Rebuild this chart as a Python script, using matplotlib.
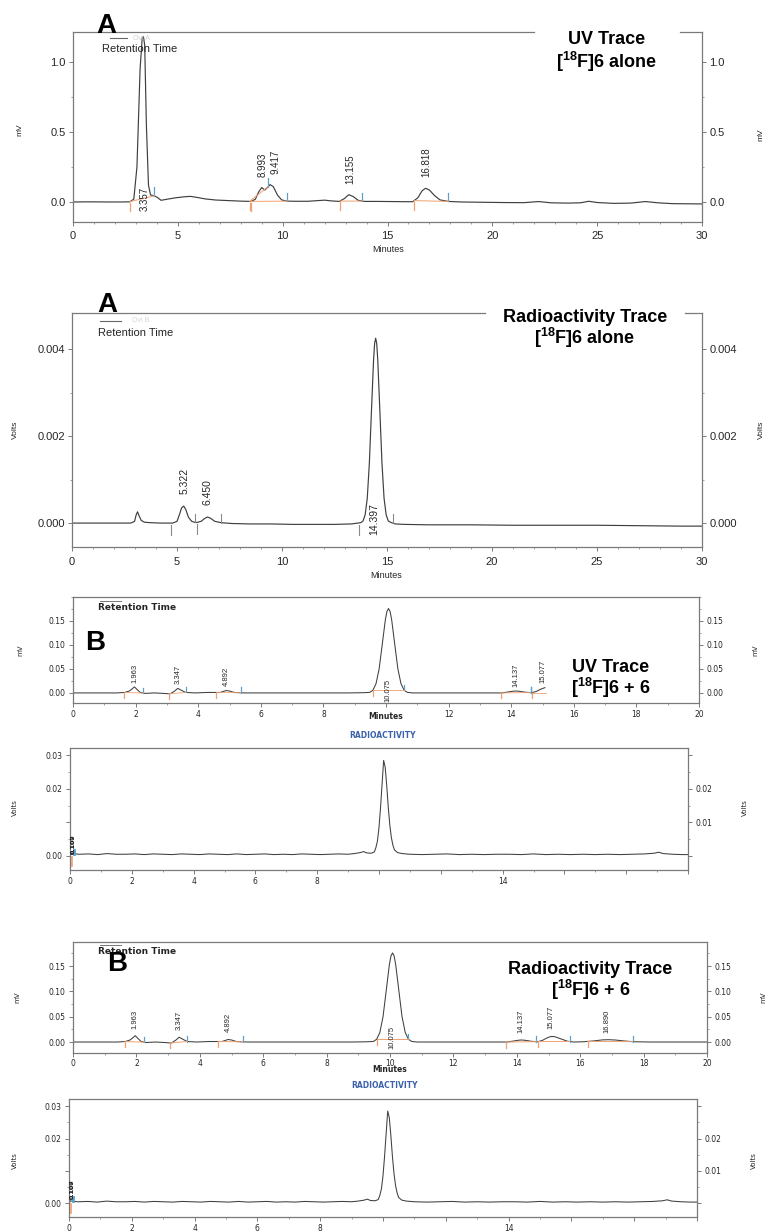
import matplotlib
matplotlib.use('Agg')
import matplotlib.pyplot as plt
from matplotlib import font_manager
from matplotlib.ticker import MultipleLocator
import numpy as np

W, H = 765, 1232
_names = {f.name for f in font_manager.fontManager.ttflist}
ARIAL = 'Liberation Sans'
NARROW = 'Liberation Sans Narrow' if 'Liberation Sans Narrow' in _names else 'Liberation Sans'
VERD = 'DejaVu Sans'

plt.rcParams['font.family'] = [ARIAL, 'DejaVu Sans']
plt.rcParams['mathtext.fontset'] = 'custom'
plt.rcParams['mathtext.rm'] = ARIAL + ':bold'
plt.rcParams['mathtext.bf'] = ARIAL + ':bold'
plt.rcParams['mathtext.it'] = ARIAL + ':bold'

# ---------------- data ----------------
# A, UV trace, [18F]6 alone  (minutes, mV)
uvA_t = [0.0, 0.8, 1.6, 2.3, 2.7, 2.9, 3.05, 3.2, 3.3, 3.36, 3.42, 3.5, 3.6, 3.7, 3.85, 4.0,
         4.2, 4.5, 4.9, 5.3, 5.6, 5.9, 6.3, 6.8, 7.4, 8.0, 8.5, 8.7, 8.85, 9.0, 9.15, 9.25,
         9.4, 9.55, 9.75, 9.95, 10.2, 10.6, 11.2, 11.7, 12.0, 12.3, 12.7, 12.95, 13.15, 13.35,
         13.6, 13.9, 14.5, 15.2, 15.8, 16.2, 16.45, 16.65, 16.82, 17.0, 17.25, 17.5, 17.9, 18.5,
         19.5, 20.5, 21.5, 22.2, 22.8, 23.6, 24.2, 24.6, 25.0, 25.8, 26.6, 27.3, 27.9, 28.6,
         29.3, 30.0]
uvA_mv = [0.0, 0.001, 0.0, 0.0, 0.001, 0.02, 0.25, 0.95, 1.17, 1.18, 1.12, 0.55, 0.12, 0.05, 0.045,
          0.035, 0.012, 0.02, 0.03, 0.037, 0.04, 0.033, 0.022, 0.014, 0.01, 0.006, 0.004, 0.02,
          0.07, 0.103, 0.085, 0.1, 0.124, 0.11, 0.05, 0.015, 0.006, 0.005, 0.005, 0.01, 0.013,
          0.008, 0.004, 0.025, 0.052, 0.04, 0.012, 0.004, 0.004, 0.003, 0.002, 0.002, 0.03, 0.08,
          0.098, 0.085, 0.045, 0.015, 0.004, 0.0, -0.002, -0.004, -0.005, 0.003, -0.006, -0.008,
          -0.006, 0.005, -0.004, -0.01, -0.008, 0.003, -0.006, -0.012, -0.013, -0.014]
uvA_rt = [3.357, 8.993, 9.417, 13.155, 16.818]
uvA_labels = ['3.357', '8.993', '9.417', '13.155', '16.818']
uvA_start = [2.72, 8.42, 8.48, 12.73, 16.27]
uvA_end = [3.87, 9.30, 10.20, 13.80, 17.90]

# A, radioactivity trace, [18F]6 alone  (minutes, Volts)
radA_t = [0.0, 1.0, 2.0, 2.8, 2.98, 3.05, 3.12, 3.2, 3.3, 3.45, 3.7, 4.2, 4.8, 5.0, 5.12, 5.22,
          5.32, 5.42, 5.55, 5.7, 5.9, 6.15, 6.3, 6.45, 6.6, 6.8, 7.1, 7.6, 8.5, 9.5, 10.5, 11.5,
          12.5, 13.3, 13.76, 13.86, 13.96, 14.06, 14.16, 14.26, 14.36, 14.41, 14.46, 14.51, 14.56,
          14.66, 14.76, 14.86, 14.96, 15.06, 15.2, 15.4, 15.8, 17.0, 19.0, 21.0, 23.0, 25.0, 27.0,
          29.0, 30.0]
radA_v = [0.0, 0.0, 0.0, 0.0, 0.00004, 0.00018, 0.00026, 0.00016, 0.00006, 0.00002, 0.00001, 0.0,
          0.0, 0.00004, 0.00020, 0.00035, 0.00039, 0.00031, 0.00013, 0.00004, 0.00001, 0.00004,
          0.00010, 0.00014, 0.00011, 0.00004, 0.00001, -0.00001, -0.00002, -0.00002, -0.00003,
          -0.00003, -0.00003, -0.00002, 0.00001, 0.00005, 0.00019, 0.00057, 0.00138, 0.00258,
          0.00375, 0.00413, 0.00425, 0.00413, 0.00375, 0.00258, 0.00138, 0.00057, 0.00019, 0.00005,
          0.00001, -0.00002, -0.00003, -0.00004, -0.00004, -0.00005, -0.00005, -0.00005, -0.00006,
          -0.00007, -0.00007]
radA_rt = [5.322, 6.450, 14.397]
radA_labels = ['5.322', '6.450', '14.397']
radA_mark_up = [5.86, 7.10, 15.27]
radA_mark_down = [4.72, 5.93, 13.65]

# B, UV trace, [18F]6 + 6  (minutes, mV)
uvB_t = [0.0, 0.8, 1.4, 1.65, 1.8, 1.9, 1.963, 2.05, 2.15, 2.3, 2.6, 2.9, 3.1, 3.25, 3.347, 3.45,
         3.6, 3.9, 4.3, 4.7, 4.8, 4.892, 5.0, 5.15, 5.5, 6.2, 7.0, 8.0, 8.8, 9.3, 9.48, 9.58, 9.68,
         9.78, 9.88, 9.98, 10.03, 10.08, 10.13, 10.18, 10.28, 10.38, 10.48, 10.58, 10.68, 10.85,
         11.5, 12.5, 13.3, 13.7, 13.9, 14.05, 14.137, 14.25, 14.45, 14.65, 14.8, 14.95, 15.077,
         15.2, 15.4, 15.6, 15.8, 16.1, 16.4, 16.7, 16.89, 17.1, 17.4, 17.7, 18.2, 19.0, 20.0]
uvB_mv = [0.0, 0.0, 0.0, 0.001, 0.004, 0.009, 0.0125, 0.007, 0.001, -0.001, 0.0, -0.001, -0.002,
          0.004, 0.0095, 0.006, 0.001, 0.0, 0.001, 0.001, 0.003, 0.005, 0.004, 0.001, 0.0, 0.0, 0.0,
          0.0, 0.0, 0.0005, 0.0012, 0.0055, 0.019, 0.05, 0.101, 0.153, 0.170, 0.176, 0.170, 0.153,
          0.101, 0.05, 0.019, 0.0055, 0.0012, 0.0, 0.0, 0.0, 0.0, 0.0, 0.002, 0.0035, 0.004, 0.0035,
          0.0015, 0.0005, 0.003, 0.008, 0.011, 0.0105, 0.006, 0.0015, 0.0, 0.0005, 0.002, 0.0042,
          0.0046, 0.004, 0.002, 0.0005, 0.0, 0.0, 0.0]
uvB_rt = [1.963, 3.347, 4.892, 10.075, 14.137, 15.077, 16.890]
uvB_labels = ['1.963', '3.347', '4.892', '10.075', '14.137', '15.077', '16.890']
uvB_start = [1.64, 3.06, 4.58, 9.58, 13.66, 14.68, 16.24]
uvB_end = [2.25, 3.60, 5.37, 10.58, 14.62, 15.67, 17.65]

# B, radioactivity trace, [18F]6 + 6  (minutes, Volts)
radB_t = [0.0, 0.05, 0.15, 0.3, 0.6, 0.9, 1.2, 1.5, 1.8, 2.1, 2.4, 2.7, 3.0, 3.3, 3.6, 3.9, 4.2,
          4.5, 4.8, 5.1, 5.4, 5.7, 6.0, 6.3, 6.6, 6.9, 7.2, 7.5, 7.8, 8.1, 8.4, 8.7, 9.0, 9.2, 9.4,
          9.5, 9.6, 9.75, 9.85, 9.9, 9.95, 10.0, 10.05, 10.1, 10.15, 10.2, 10.25, 10.3, 10.35, 10.4,
          10.45, 10.5, 10.6, 10.75, 11.0, 11.4, 11.8, 12.2, 12.6, 13.0, 13.4, 13.8, 14.2, 14.6,
          15.0, 15.4, 15.8, 16.2, 16.6, 17.0, 17.4, 17.8, 18.2, 18.6, 18.9, 19.05, 19.2, 19.5,
          19.8, 20.0]
radB_v = [0.0, 0.0008, 0.0006, 0.0005, 0.0006, 0.0004, 0.0007, 0.0005, 0.0005, 0.0006, 0.0004,
          0.0006, 0.0005, 0.0004, 0.0006, 0.0005, 0.0004, 0.0006, 0.0005, 0.0004, 0.0006, 0.0004,
          0.0005, 0.0006, 0.0004, 0.0005, 0.0004, 0.0006, 0.0005, 0.0004, 0.0005, 0.0006, 0.0005,
          0.0007, 0.0010, 0.0013, 0.0009, 0.0008, 0.0012, 0.0025, 0.0045, 0.0085, 0.0145, 0.0215,
          0.0285, 0.0265, 0.0210, 0.0145, 0.0092, 0.0055, 0.0032, 0.0018, 0.0010, 0.0007, 0.0005,
          0.0004, 0.0005, 0.0006, 0.0004, 0.0005, 0.0004, 0.0005, 0.0005, 0.0004, 0.0006, 0.0004,
          0.0005, 0.0004, 0.0005, 0.0004, 0.0005, 0.0004, 0.0005, 0.0006, 0.0008, 0.0011, 0.0007,
          0.0005, 0.0004, 0.0004]
radB_labels = ['0.100', '0.107']
radB_label_rt = 0.1

titles_A = ['UV Trace', 'Radioactivity Trace']
titles_B = ['UV Trace', 'Radioactivity Trace']
sub_A = '[$^{18}$F]6 alone'
sub_B = '[$^{18}$F]6 + 6'

assert len(uvA_t) == len(uvA_mv) and len(radA_t) == len(radA_v)
assert len(uvB_t) == len(uvB_mv) and len(radB_t) == len(radB_v)

# ---------------- styling ----------------
SPINE = '#7a7a7a'
TRACE = '#3f3f3f'
ORANGE = '#f2a070'
BLUE = '#5aa0cc'
GRAYMARK = '#8a8a8a'
TXT = '#262626'
RADBLUE = '#3c62ad'

fig = plt.figure(figsize=(W / 100, H / 100), dpi=100)
fig.patch.set_facecolor('white')


def px_axes(l, t, r, b):
    return fig.add_axes([l / W, 1 - b / H, (r - l) / W, (b - t) / H])


def ftext(x, y, s, **kw):
    kw.setdefault('ha', 'center')
    kw.setdefault('va', 'center')
    kw.setdefault('color', TXT)
    return fig.text(x / W, 1 - y / H, s, **kw)


def style_axes(ax, xlim, ylim, xticks, xlabels, xminor, yticks, ylab_l, ylab_r, yminor,
               tfont, tsize, xpad, top_gap=None):
    ax.set_xlim(*xlim)
    ax.set_ylim(*ylim)
    for s in ax.spines.values():
        s.set_color(SPINE)
        s.set_linewidth(0.9)
    ax.set_xticks(xticks)
    ax.set_xticklabels(xlabels, fontfamily=tfont)
    ax.xaxis.set_minor_locator(MultipleLocator(xminor))
    ax.set_yticks(yticks)
    ax.set_yticklabels(ylab_l, fontfamily=tfont)
    ax.yaxis.set_minor_locator(MultipleLocator(yminor))
    ax.tick_params(which='major', direction='out', length=3.2, width=0.7, color=SPINE,
                   labelsize=tsize, labelcolor=TXT)
    ax.tick_params(which='minor', direction='out', length=1.6, width=0.5, color=SPINE)
    ax.tick_params(axis='x', which='both', pad=xpad)
    ax.tick_params(axis='y', which='both', pad=2)
    ax2 = ax.twinx()
    ax2.set_ylim(*ylim)
    ax2.set_yticks(yticks)
    ax2.set_yticklabels(ylab_r, fontfamily=tfont)
    ax2.yaxis.set_minor_locator(MultipleLocator(yminor))
    ax2.tick_params(which='major', direction='out', length=3.2, width=0.7, color=SPINE,
                    labelsize=tsize, labelcolor=TXT, pad=2)
    ax2.tick_params(which='minor', direction='out', length=1.6, width=0.5, color=SPINE)
    for s in ax2.spines.values():
        s.set_visible(False)
    if top_gap is not None:
        ax.spines['top'].set_visible(False)
        a, b = top_gap
        ax.plot([0, a], [1, 1], transform=ax.transAxes, color=SPINE, lw=0.9, clip_on=False)
        ax.plot([b, 1], [1, 1], transform=ax.transAxes, color=SPINE, lw=0.9, clip_on=False)
    return ax2


def integration_marks(ax, t, v, starts, ends, dn, up, c_start, c_end, base=True):
    for s in starts:
        y = np.interp(s, t, v)
        ax.plot([s, s], [y - 0.15 * dn, y - dn], color=c_start, lw=0.9)
    for e in ends:
        y = np.interp(e, t, v)
        ax.plot([e, e], [y, y + up], color=c_end, lw=0.9)
    if base:
        for s, e in zip(starts, ends):
            ax.plot([s, e], [np.interp(s, t, v), np.interp(e, t, v)], color=ORANGE, lw=0.7)


def peak_labels(ax, t, v, rts, labels, below, dy, ybelow, fs, family, nudge):
    for rt, lab in zip(rts, labels):
        x = rt + nudge.get(lab, 0.0)
        if lab in below:
            ax.text(x, ybelow, lab, rotation=90, ha='center', va='center', fontsize=fs,
                    family=family, color=TXT)
        else:
            ax.text(x, np.interp(rt, t, v) + dy, lab, rotation=90, ha='center', va='bottom',
                    fontsize=fs, family=family, color=TXT)


# ======== Panel 1 : A, UV ========
ax1 = px_axes(73, 32, 702, 222)
style_axes(ax1, (0, 30), (-0.143, 1.214), list(range(0, 31, 5)), [str(v) for v in range(0, 31, 5)], 1,
           [0, 0.5, 1.0], ['0.0', '0.5', '1.0'], ['0.0', '0.5', '1.0'], 0.25, ARIAL, 8, 3,
           top_gap=(0.733, 0.965))
ax1.plot(uvA_t, uvA_mv, color=TRACE, lw=0.85)
integration_marks(ax1, uvA_t, uvA_mv, uvA_start, uvA_end, 0.065, 0.06, ORANGE, BLUE)
peak_labels(ax1, uvA_t, uvA_mv, uvA_rt, uvA_labels, {'3.357'}, 0.08, 0.02, 7, ARIAL,
            {'3.357': 0.07, '8.993': 0.06, '9.417': 0.23, '13.155': 0.05, '16.818': 0.03})
ftext(106, 26, 'A', fontsize=20, fontweight='bold', color='black')
ftext(607, 40, titles_A[0], fontsize=13, fontweight='bold', color='black')
ftext(607, 62, sub_A, fontsize=13, fontweight='bold', color='black')
ftext(102, 49, 'Retention Time', fontsize=8, ha='left')
fig.add_artist(plt.Line2D([110 / W, 127 / W], [1 - 38 / H, 1 - 38 / H], color='#666666', lw=0.8))
ftext(133, 38, 'Ovl A', fontsize=5, ha='left', color='#cfcfcf')
ftext(20, 130, 'mV', fontsize=6, rotation=90)
ftext(761, 135, 'mV', fontsize=6, rotation=90)
ftext(388, 249, 'Minutes', fontsize=6.5)

# ======== Panel 2 : A, radioactivity ========
ax2 = px_axes(72, 313, 702, 547)
style_axes(ax2, (0, 30), (-0.00055, 0.00483), list(range(0, 31, 5)), [str(v) for v in range(0, 31, 5)], 1,
           [0, 0.002, 0.004], ['0.000', '0.002', '0.004'], ['0.000', '0.002', '0.004'], 0.001,
           ARIAL, 8, 4, top_gap=(0.656, 0.973))
ax2.plot(radA_t, radA_v, color=TRACE, lw=0.85)
for m in radA_mark_up:
    y = np.interp(m, radA_t, radA_v)
    ax2.plot([m, m], [y, y + 0.0002], color=GRAYMARK, lw=0.8)
for m in radA_mark_down:
    y = np.interp(m, radA_t, radA_v)
    ax2.plot([m, m], [y - 0.00004, y - 0.00027], color=GRAYMARK, lw=0.8)
peak_labels(ax2, radA_t, radA_v, radA_rt, radA_labels, {'14.397'}, 0.00027, 0.00009, 7.5, ARIAL,
            {'5.322': 0.03, '6.450': 0.0, '14.397': 0.0})
ftext(107, 305, 'A', fontsize=20, fontweight='bold', color='black')
ftext(585, 317, titles_A[1], fontsize=13, fontweight='bold', color='black')
ftext(585, 338, sub_A, fontsize=13, fontweight='bold', color='black')
ftext(98, 333, 'Retention Time', fontsize=8, ha='left')
fig.add_artist(plt.Line2D([100 / W, 121 / W], [1 - 321 / H, 1 - 321 / H], color='#666666', lw=0.8))
ftext(132, 321, 'Ovl B', fontsize=5, ha='left', color='#d5d5d5')
ftext(15, 430, 'Volts', fontsize=6, rotation=90)
ftext(761, 430, 'Volts', fontsize=6, rotation=90)
ftext(386, 575, 'Minutes', fontsize=6.5)

# ======== Panel 3 : B, UV (partly hidden by label) ========
uvB_t_arr = np.array(uvB_t)
uvB_hidden = np.where((uvB_t_arr > 15.1) & (uvB_t_arr < 19.1), np.nan, np.array(uvB_mv))
ax3 = px_axes(73, 597, 699, 703)
style_axes(ax3, (0, 20), (-0.021, 0.2), list(range(0, 21, 2)),
           ['0', '2', '4', '6', '8', '', '12', '14', '16', '18', '20'], 1,
           [0, 0.05, 0.10, 0.15], ['0.00', '0.05', '0.10', '0.15'], ['0.00', '0.05', '0.10', '0.15'],
           0.025, VERD, 5.5, 1.5)
ax3.plot(uvB_t_arr, uvB_hidden, color=TRACE, lw=0.75)
vis = [i for i, e in enumerate(uvB_end) if e < 15.1]
integration_marks(ax3, uvB_t, uvB_mv, [uvB_start[i] for i in vis] + [uvB_start[5]],
                  [uvB_end[i] for i in vis] + [14.62], 0.011, 0.011, ORANGE, BLUE, base=False)
for i in vis:
    s, e = uvB_start[i], uvB_end[i]
    ax3.plot([s, e], [np.interp(s, uvB_t, uvB_mv), np.interp(e, uvB_t, uvB_mv)], color=ORANGE, lw=0.6)
ax3.plot([uvB_start[5], 15.1], [0, 0], color=ORANGE, lw=0.6)
peak_labels(ax3, uvB_t, uvB_mv, uvB_rt[:6], uvB_labels[:6], {'10.075'}, 0.009, 0.005, 5.5, NARROW,
            {'1.963': 0.03, '3.347': 0.0, '4.892': 0.0, '10.075': 0.0, '14.137': 0.0, '15.077': -0.05})
ftext(95, 643, 'B', fontsize=20, fontweight='bold', color='black')
ftext(611, 667, titles_B[0], fontsize=13, fontweight='bold', color='black')
ftext(611, 688, sub_B, fontsize=13, fontweight='bold', color='black')
ftext(98, 607, 'Retention Time', fontsize=6.5, ha='left', fontweight='bold', family=VERD)
fig.add_artist(plt.Line2D([100 / W, 121 / W], [1 - 601 / H, 1 - 601 / H], color='#777777', lw=0.7))
ftext(20, 650, 'mV', fontsize=5, rotation=90, family=VERD)
ftext(755, 650, 'mV', fontsize=5, rotation=90, family=VERD)
ftext(386, 717, 'Minutes', fontsize=5.5, family=VERD, fontweight='bold')
ftext(383, 735, 'RADIOACTIVITY', fontsize=5.5, family=VERD, fontweight='bold', color=RADBLUE)


def radio_panel(box, label_y):
    ax = px_axes(*box)
    style_axes(ax, (0, 20), (-0.0042, 0.0322), list(range(0, 21, 2)),
               ['0', '2', '4', '6', '8', '', '', '14', '', '', ''], 1,
               [0, 0.01, 0.02, 0.03], ['0.00', '', '0.02', '0.03'], ['', '0.01', '0.02', ''],
               0.005, VERD, 5.5, 1.5)
    ax.plot(radB_t, radB_v, color=TRACE, lw=0.75)
    ax.plot([0.05, 0.05], [-0.0003, -0.003], color=ORANGE, lw=1.2)
    ax.plot([0.13, 0.13], [0.0006, 0.0019], color=BLUE, lw=2.0)
    for lab in radB_labels:
        ax.text(radB_label_rt, label_y, lab, rotation=90, ha='center', va='center', fontsize=4.5,
                family=VERD, fontweight='bold', color=TXT)
    return ax


# ======== Panel 4 : B, radioactivity ========
ax4 = radio_panel((70, 748, 688, 870), 0.0036)
ftext(15, 808, 'Volts', fontsize=5, rotation=90, family=VERD)
ftext(745, 808, 'Volts', fontsize=5, rotation=90, family=VERD)

# ======== Panel 5 : B, UV full ========
ax5 = px_axes(73, 942, 707, 1053)
style_axes(ax5, (0, 20), (-0.0217, 0.1976), list(range(0, 21, 2)), [str(v) for v in range(0, 21, 2)], 1,
           [0, 0.05, 0.10, 0.15], ['0.00', '0.05', '0.10', '0.15'], ['0.00', '0.05', '0.10', '0.15'],
           0.025, VERD, 5.5, 0.8)
ax5.plot(uvB_t, uvB_mv, color=TRACE, lw=0.75)
integration_marks(ax5, uvB_t, uvB_mv, uvB_start, uvB_end, 0.011, 0.011, ORANGE, BLUE)
peak_labels(ax5, uvB_t, uvB_mv, uvB_rt, uvB_labels, {'10.075'}, 0.014, 0.01, 5.5, NARROW,
            {'1.963': 0.0, '10.075': -0.02, '14.137': 0.0, '15.077': 0.0, '16.890': -0.03})
ftext(98, 952, 'Retention Time', fontsize=6.5, ha='left', fontweight='bold', family=VERD)
fig.add_artist(plt.Line2D([100 / W, 121 / W], [1 - 945 / H, 1 - 945 / H], color='#777777', lw=0.7))
ftext(117, 964, 'B', fontsize=20, fontweight='bold', color='black')
ftext(590, 969, titles_B[1], fontsize=13, fontweight='bold', color='black')
ftext(591, 990, sub_B, fontsize=13, fontweight='bold', color='black')
ftext(17, 997, 'mV', fontsize=5, rotation=90, family=VERD)
ftext(763, 997, 'mV', fontsize=5, rotation=90, family=VERD)
ftext(390, 1070, 'Minutes', fontsize=5.5, family=VERD, fontweight='bold')
ftext(385, 1085, 'RADIOACTIVITY', fontsize=5.5, family=VERD, fontweight='bold', color=RADBLUE)

# ======== Panel 6 : B, radioactivity ========
ax6 = radio_panel((69, 1099, 697, 1217), 0.0044)
ftext(15, 1161, 'Volts', fontsize=5, rotation=90, family=VERD)
ftext(754, 1161, 'Volts', fontsize=5, rotation=90, family=VERD)

fig.savefig('out.png', dpi=100, facecolor='white')
